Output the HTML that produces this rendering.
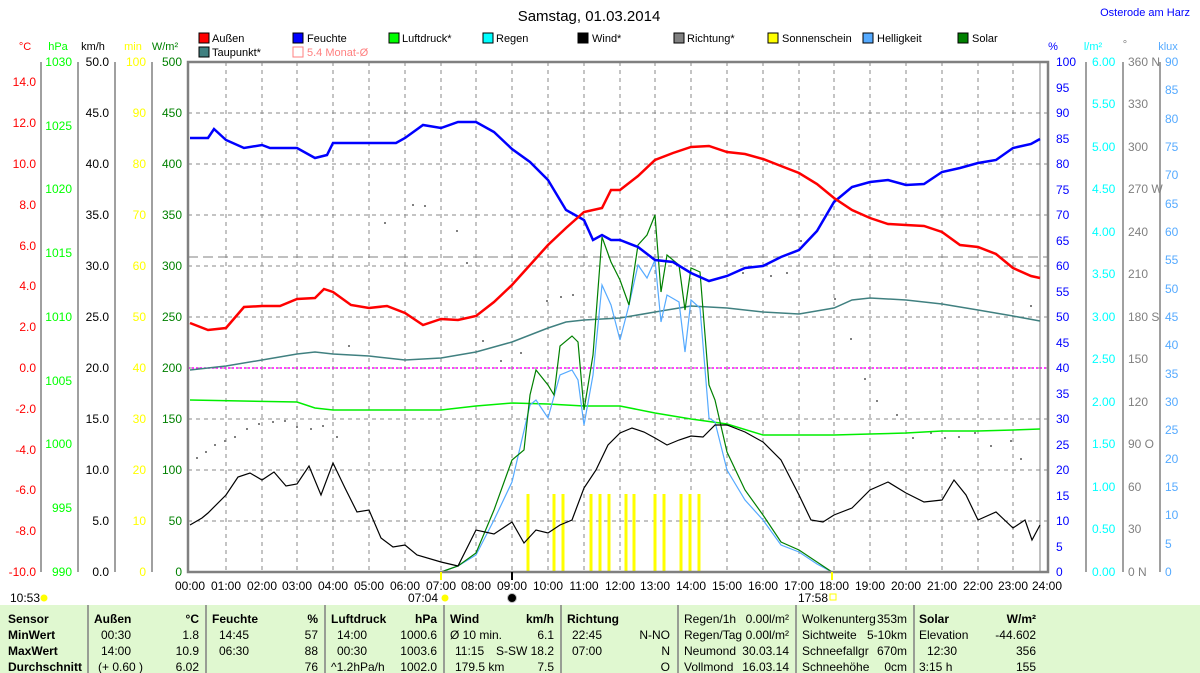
<!DOCTYPE html>
<html><head><meta charset="utf-8"><style>
body{margin:0;background:#fff;}
svg{display:block;font-family:"Liberation Sans",sans-serif;}
</style></head><body>
<svg width="1200" height="673" viewBox="0 0 1200 673" xmlns="http://www.w3.org/2000/svg">
<rect width="1200" height="673" fill="#fff"/>
<text x="589" y="21" font-size="15" text-anchor="middle" fill="#000">Samstag, 01.03.2014</text>
<text x="1190" y="16" font-size="11" text-anchor="end" fill="#0000ff">Osterode am Harz</text>
<!-- legend -->
<g font-size="11" fill="#000">
<rect x="199" y="33" width="10" height="10" fill="#ff0000" stroke="#000"/><text x="212" y="42">Außen</text>
<rect x="293" y="33" width="10" height="10" fill="#0000ff" stroke="#000"/><text x="307" y="42">Feuchte</text>
<rect x="389" y="33" width="10" height="10" fill="#00ff00" stroke="#000"/><text x="402" y="42">Luftdruck*</text>
<rect x="483" y="33" width="10" height="10" fill="#00ffff" stroke="#000"/><text x="496" y="42">Regen</text>
<rect x="578" y="33" width="10" height="10" fill="#000" stroke="#000"/><text x="592" y="42">Wind*</text>
<rect x="674" y="33" width="10" height="10" fill="#808080" stroke="#000"/><text x="687" y="42">Richtung*</text>
<rect x="768" y="33" width="10" height="10" fill="#ffff00" stroke="#000"/><text x="782" y="42">Sonnenschein</text>
<rect x="863" y="33" width="10" height="10" fill="#55aaff" stroke="#000"/><text x="877" y="42">Helligkeit</text>
<rect x="958" y="33" width="10" height="10" fill="#008000" stroke="#000"/><text x="972" y="42">Solar</text>
<rect x="199" y="47" width="10" height="10" fill="#408080" stroke="#000"/><text x="212" y="56">Taupunkt*</text>
<rect x="293" y="47" width="10" height="10" fill="none" stroke="#ff8080"/><text x="307" y="56" fill="#ff8080">5.4 Monat-Ø</text>
</g>
<!-- axis titles -->
<g font-size="11">
<text x="25" y="50" text-anchor="middle" fill="#ff0000">°C</text>
<text x="58" y="50" text-anchor="middle" fill="#00ff00">hPa</text>
<text x="93" y="50" text-anchor="middle" fill="#000">km/h</text>
<text x="133" y="50" text-anchor="middle" fill="#ffff00">min</text>
<text x="165" y="50" text-anchor="middle" fill="#008000">W/m²</text>
<text x="1053" y="50" text-anchor="middle" fill="#0000ff">%</text>
<text x="1093" y="50" text-anchor="middle" fill="#00ffff">l/m²</text>
<text x="1125" y="48" text-anchor="middle" fill="#808080">°</text>
<text x="1168" y="50" text-anchor="middle" fill="#55aaff">klux</text>
</g>
<!-- axis lines -->
<g stroke="#808080" stroke-width="1.5">
<line x1="41" y1="62" x2="41" y2="572"/>
<line x1="78" y1="62" x2="78" y2="572"/>
<line x1="115" y1="62" x2="115" y2="572"/>
<line x1="152" y1="62" x2="152" y2="572"/>
<line x1="1086" y1="62" x2="1086" y2="572"/>
<line x1="1123" y1="62" x2="1123" y2="572"/>
<line x1="1160" y1="62" x2="1160" y2="572"/>
</g>
<!-- grid -->
<g stroke="#8a8a8a" stroke-dasharray="4,4" stroke-width="1">
<line x1="188" y1="113" x2="1048" y2="113"/><line x1="188" y1="164" x2="1048" y2="164"/>
<line x1="188" y1="215" x2="1048" y2="215"/><line x1="188" y1="266" x2="1048" y2="266"/>
<line x1="188" y1="317" x2="1048" y2="317"/><line x1="188" y1="368" x2="1048" y2="368"/>
<line x1="188" y1="419" x2="1048" y2="419"/><line x1="188" y1="470" x2="1048" y2="470"/>
<line x1="188" y1="521" x2="1048" y2="521"/>
<line x1="226" y1="62" x2="226" y2="572"/><line x1="262" y1="62" x2="262" y2="572"/>
<line x1="297" y1="62" x2="297" y2="572"/><line x1="333" y1="62" x2="333" y2="572"/>
<line x1="369" y1="62" x2="369" y2="572"/><line x1="405" y1="62" x2="405" y2="572"/>
<line x1="441" y1="62" x2="441" y2="572"/><line x1="476" y1="62" x2="476" y2="572"/>
<line x1="512" y1="62" x2="512" y2="572"/><line x1="548" y1="62" x2="548" y2="572"/>
<line x1="584" y1="62" x2="584" y2="572"/><line x1="620" y1="62" x2="620" y2="572"/>
<line x1="655" y1="62" x2="655" y2="572"/><line x1="691" y1="62" x2="691" y2="572"/>
<line x1="727" y1="62" x2="727" y2="572"/><line x1="763" y1="62" x2="763" y2="572"/>
<line x1="799" y1="62" x2="799" y2="572"/><line x1="834" y1="62" x2="834" y2="572"/>
<line x1="870" y1="62" x2="870" y2="572"/><line x1="906" y1="62" x2="906" y2="572"/>
<line x1="942" y1="62" x2="942" y2="572"/><line x1="978" y1="62" x2="978" y2="572"/>
<line x1="1013" y1="62" x2="1013" y2="572"/>
</g>
<line x1="188" y1="257" x2="1048" y2="257" stroke="#808080" stroke-dasharray="10,5"/>
<line x1="188" y1="368" x2="1048" y2="368" stroke="#ff00ff" stroke-dasharray="2,2" stroke-width="1.5"/>
<line x1="1040" y1="62" x2="1040" y2="572" stroke="#808080"/>
<!-- sunshine bars -->
<g stroke="#ffff00" stroke-width="3">
<line x1="528" y1="494" x2="528" y2="572"/><line x1="554" y1="494" x2="554" y2="572"/>
<line x1="563" y1="494" x2="563" y2="572"/><line x1="591" y1="494" x2="591" y2="572"/>
<line x1="600" y1="494" x2="600" y2="572"/><line x1="609" y1="494" x2="609" y2="572"/>
<line x1="626" y1="494" x2="626" y2="572"/><line x1="634" y1="494" x2="634" y2="572"/>
<line x1="655" y1="494" x2="655" y2="572"/><line x1="664" y1="494" x2="664" y2="572"/>
<line x1="681" y1="494" x2="681" y2="572"/><line x1="690" y1="494" x2="690" y2="572"/>
<line x1="699" y1="494" x2="699" y2="572"/>
</g>
<!-- direction dots -->
<g fill="#808080">
<rect x="196" y="457" width="2" height="2"/><rect x="205" y="451" width="2" height="2"/><rect x="214" y="444" width="2" height="2"/>
<rect x="224" y="440" width="2" height="2"/><rect x="234" y="436" width="2" height="2"/><rect x="246" y="428" width="2" height="2"/>
<rect x="258" y="423" width="2" height="2"/><rect x="272" y="421" width="2" height="2"/><rect x="284" y="420" width="2" height="2"/>
<rect x="296" y="426" width="2" height="2"/><rect x="310" y="428" width="2" height="2"/><rect x="322" y="425" width="2" height="2"/>
<rect x="336" y="436" width="2" height="2"/><rect x="348" y="345" width="2" height="2"/><rect x="384" y="222" width="2" height="2"/>
<rect x="412" y="204" width="2" height="2"/><rect x="424" y="205" width="2" height="2"/><rect x="456" y="230" width="2" height="2"/>
<rect x="466" y="262" width="2" height="2"/><rect x="482" y="340" width="2" height="2"/><rect x="500" y="360" width="2" height="2"/>
<rect x="520" y="352" width="2" height="2"/><rect x="546" y="300" width="2" height="2"/><rect x="560" y="296" width="2" height="2"/>
<rect x="572" y="294" width="2" height="2"/><rect x="742" y="272" width="2" height="2"/><rect x="770" y="275" width="2" height="2"/>
<rect x="786" y="272" width="2" height="2"/><rect x="800" y="240" width="2" height="2"/><rect x="834" y="298" width="2" height="2"/>
<rect x="850" y="338" width="2" height="2"/><rect x="864" y="378" width="2" height="2"/><rect x="876" y="400" width="2" height="2"/>
<rect x="896" y="414" width="2" height="2"/><rect x="912" y="437" width="2" height="2"/><rect x="930" y="432" width="2" height="2"/>
<rect x="944" y="437" width="2" height="2"/><rect x="958" y="436" width="2" height="2"/><rect x="974" y="432" width="2" height="2"/>
<rect x="990" y="445" width="2" height="2"/><rect x="1010" y="440" width="2" height="2"/><rect x="1020" y="458" width="2" height="2"/>
<rect x="1030" y="305" width="2" height="2"/>
</g>
<!-- series -->
<polyline fill="none" stroke="#00ee00" stroke-width="1.5" points="190,400 297,402 315,408 333,410 441,410 476,406 512,403 548,404 584,406 620,406 655,413 691,419 727,424 763,435 799,435 834,435 870,434 906,433 942,431 978,431 1013,430 1040,429"/>
<polyline fill="none" stroke="#408080" stroke-width="1.5" points="190,370 226,366 262,360 297,354 315,352 333,354 369,356 405,360 441,358 476,352 512,342 548,328 566,322 584,320 620,318 655,312 691,306 727,308 763,312 799,314 834,308 852,300 870,298 906,300 942,304 978,310 1013,316 1040,321"/>
<polyline fill="none" stroke="#55aaff" stroke-width="1.2" points="441,572 458,566 476,555 494,520 512,482 530,405 536,400 548,418 560,375 572,370 578,380 584,425 593,375 602,285 611,305 620,340 629,305 638,265 647,278 655,260 661,322 667,295 679,302 685,352 691,300 700,308 709,418 715,422 727,470 745,500 763,520 781,545 799,552 817,564 832,572"/>
<polyline fill="none" stroke="#008000" stroke-width="1.2" points="190,572 441,572 458,566 476,553 494,510 512,460 524,450 530,395 536,370 548,385 554,395 560,346 572,336 578,342 584,410 593,355 602,237 611,262 620,280 629,305 638,245 647,235 655,215 661,292 667,255 679,265 685,310 691,268 700,272 709,385 715,400 727,452 745,490 763,515 781,542 799,550 817,562 832,572"/>
<polyline fill="none" stroke="#000" stroke-width="1.2" points="190,525 202,518 208,513 226,495 238,477 250,473 262,480 274,472 286,486 297,484 309,466 321,495 333,463 345,488 357,512 369,510 381,538 393,547 405,545 417,555 441,562 458,566 476,530 494,534 512,522 524,543 536,530 548,533 560,525 572,520 584,488 596,470 608,445 620,433 632,428 644,432 655,438 667,445 679,440 691,436 703,437 715,425 727,425 745,432 763,442 781,460 799,495 811,520 823,522 834,515 852,508 870,490 888,482 906,493 924,502 942,500 954,480 966,495 978,520 996,512 1013,528 1025,520 1032,540 1040,525"/>
<polyline fill="none" stroke="#0000ff" stroke-width="2.5" points="190,138 208,138 214,129 226,140 244,148 262,145 270,148 297,148 315,158 327,155 333,143 369,143 396,143 405,138 423,125 441,128 458,122 476,122 494,132 512,149 530,162 548,180 566,210 575,215 584,220 593,240 602,235 611,240 620,240 638,247 655,260 673,262 691,273 709,281 727,276 745,268 763,266 781,257 799,250 817,231 834,202 852,187 870,182 888,180 906,185 924,184 942,172 960,168 978,163 996,160 1013,148 1031,144 1040,139"/>
<polyline fill="none" stroke="#ff0000" stroke-width="2.5" points="190,323 208,330 226,328 244,307 262,306 280,306 297,299 315,298 324,289 333,292 351,305 369,308 387,306 405,313 423,325 441,319 458,320 476,316 494,302 512,285 530,265 548,245 566,228 584,212 602,208 611,190 620,190 638,176 655,160 673,153 691,147 709,146 727,152 745,154 763,159 781,166 799,173 817,184 834,198 852,210 870,218 888,224 906,225 924,226 942,232 960,245 978,247 996,254 1013,268 1031,276 1040,278"/>
<!-- frame -->
<rect x="188" y="62" width="860" height="510" fill="none" stroke="#808080" stroke-width="2.5"/>
<!-- left tick labels -->
<g font-size="12" fill="#ff0000" text-anchor="end">
<text x="36" y="86">14.0</text><text x="36" y="127">12.0</text><text x="36" y="168">10.0</text><text x="36" y="209">8.0</text><text x="36" y="250">6.0</text><text x="36" y="290">4.0</text><text x="36" y="331">2.0</text><text x="36" y="372">0.0</text><text x="36" y="413">-2.0</text><text x="36" y="454">-4.0</text><text x="36" y="494">-6.0</text><text x="36" y="535">-8.0</text><text x="36" y="576">-10.0</text>
</g>
<g font-size="12" fill="#00ff00" text-anchor="end">
<text x="72" y="66">1030</text><text x="72" y="130">1025</text><text x="72" y="193">1020</text><text x="72" y="257">1015</text><text x="72" y="321">1010</text><text x="72" y="385">1005</text><text x="72" y="448">1000</text><text x="72" y="512">995</text><text x="72" y="576">990</text>
</g>
<g font-size="12" fill="#000" text-anchor="end">
<text x="109" y="66">50.0</text><text x="109" y="117">45.0</text><text x="109" y="168">40.0</text><text x="109" y="219">35.0</text><text x="109" y="270">30.0</text><text x="109" y="321">25.0</text><text x="109" y="372">20.0</text><text x="109" y="423">15.0</text><text x="109" y="474">10.0</text><text x="109" y="525">5.0</text><text x="109" y="576">0.0</text>
</g>
<g font-size="12" fill="#ffff00" text-anchor="end">
<text x="146" y="66">100</text><text x="146" y="117">90</text><text x="146" y="168">80</text><text x="146" y="219">70</text><text x="146" y="270">60</text><text x="146" y="321">50</text><text x="146" y="372">40</text><text x="146" y="423">30</text><text x="146" y="474">20</text><text x="146" y="525">10</text><text x="146" y="576">0</text>
</g>
<g font-size="12" fill="#008000" text-anchor="end">
<text x="182" y="66">500</text><text x="182" y="117">450</text><text x="182" y="168">400</text><text x="182" y="219">350</text><text x="182" y="270">300</text><text x="182" y="321">250</text><text x="182" y="372">200</text><text x="182" y="423">150</text><text x="182" y="474">100</text><text x="182" y="525">50</text><text x="182" y="576">0</text>
</g>
<!-- right tick labels -->
<g font-size="12" fill="#0000ff">
<text x="1056" y="66">100</text><text x="1056" y="92">95</text><text x="1056" y="117">90</text><text x="1056" y="143">85</text><text x="1056" y="168">80</text><text x="1056" y="194">75</text><text x="1056" y="219">70</text><text x="1056" y="245">65</text><text x="1056" y="270">60</text><text x="1056" y="296">55</text><text x="1056" y="321">50</text><text x="1056" y="347">45</text><text x="1056" y="372">40</text><text x="1056" y="398">35</text><text x="1056" y="423">30</text><text x="1056" y="449">25</text><text x="1056" y="474">20</text><text x="1056" y="500">15</text><text x="1056" y="525">10</text><text x="1056" y="551">5</text><text x="1056" y="576">0</text>
</g>
<g font-size="12" fill="#00ffff">
<text x="1092" y="66">6.00</text><text x="1092" y="108">5.50</text><text x="1092" y="151">5.00</text><text x="1092" y="193">4.50</text><text x="1092" y="236">4.00</text><text x="1092" y="278">3.50</text><text x="1092" y="321">3.00</text><text x="1092" y="363">2.50</text><text x="1092" y="406">2.00</text><text x="1092" y="448">1.50</text><text x="1092" y="491">1.00</text><text x="1092" y="533">0.50</text><text x="1092" y="576">0.00</text>
</g>
<g font-size="12" fill="#808080">
<text x="1128" y="66">360 N</text><text x="1128" y="108">330</text><text x="1128" y="151">300</text><text x="1128" y="193">270 W</text><text x="1128" y="236">240</text><text x="1128" y="278">210</text><text x="1128" y="321">180 S</text><text x="1128" y="363">150</text><text x="1128" y="406">120</text><text x="1128" y="448">90 O</text><text x="1128" y="491">60</text><text x="1128" y="533">30</text><text x="1128" y="576">0   N</text>
</g>
<g font-size="12" fill="#55aaff">
<text x="1165" y="66">90</text><text x="1165" y="94">85</text><text x="1165" y="123">80</text><text x="1165" y="151">75</text><text x="1165" y="179">70</text><text x="1165" y="208">65</text><text x="1165" y="236">60</text><text x="1165" y="264">55</text><text x="1165" y="293">50</text><text x="1165" y="321">45</text><text x="1165" y="349">40</text><text x="1165" y="378">35</text><text x="1165" y="406">30</text><text x="1165" y="434">25</text><text x="1165" y="463">20</text><text x="1165" y="491">15</text><text x="1165" y="519">10</text><text x="1165" y="548">5</text><text x="1165" y="576">0</text>
</g>
<!-- time labels -->
<g font-size="12" fill="#000" text-anchor="middle">
<text x="190" y="590">00:00</text><text x="226" y="590">01:00</text><text x="262" y="590">02:00</text><text x="297" y="590">03:00</text><text x="333" y="590">04:00</text><text x="369" y="590">05:00</text><text x="405" y="590">06:00</text><text x="441" y="590">07:00</text><text x="476" y="590">08:00</text><text x="512" y="590">09:00</text><text x="548" y="590">10:00</text><text x="584" y="590">11:00</text><text x="620" y="590">12:00</text><text x="655" y="590">13:00</text><text x="691" y="590">14:00</text><text x="727" y="590">15:00</text><text x="763" y="590">16:00</text><text x="799" y="590">17:00</text><text x="834" y="590">18:00</text><text x="870" y="590">19:00</text><text x="906" y="590">20:00</text><text x="942" y="590">21:00</text><text x="978" y="590">22:00</text><text x="1013" y="590">23:00</text><text x="1047" y="590">24:00</text>
</g>
<g font-size="12" fill="#000">
<text x="10" y="602">10:53</text><circle cx="44" cy="598" r="3.5" fill="#ffff00"/>
<text x="408" y="602">07:04</text><circle cx="445" cy="598" r="3.5" fill="#ffff00"/>
<circle cx="512" cy="598" r="4.5" fill="#000" stroke="#bbb"/>
<text x="798" y="602">17:58</text><rect x="830" y="594" width="6" height="6" fill="none" stroke="#ffff00"/>
</g>
<line x1="441" y1="572" x2="441" y2="580" stroke="#ffff00" stroke-width="2"/>
<line x1="512" y1="572" x2="512" y2="580" stroke="#000" stroke-width="2"/>
<line x1="832" y1="572" x2="832" y2="580" stroke="#ffff00" stroke-width="2"/>
<!-- table -->
<rect x="0" y="605" width="1200" height="68" fill="#e0f8d0"/>
<g stroke="#808080" stroke-width="1.5">
<line x1="88" y1="605" x2="88" y2="673"/><line x1="206" y1="605" x2="206" y2="673"/><line x1="325" y1="605" x2="325" y2="673"/><line x1="444" y1="605" x2="444" y2="673"/><line x1="561" y1="605" x2="561" y2="673"/><line x1="678" y1="605" x2="678" y2="673"/><line x1="796" y1="605" x2="796" y2="673"/><line x1="914" y1="605" x2="914" y2="673"/>
</g>
<g font-size="12" fill="#000">
<g font-weight="bold"><text x="8" y="623">Sensor</text><text x="8" y="639">MinWert</text><text x="8" y="655">MaxWert</text><text x="8" y="671">Durchschnitt</text>
<text x="94" y="623">Außen</text><text x="199" y="623" text-anchor="end">°C</text>
<text x="212" y="623">Feuchte</text><text x="318" y="623" text-anchor="end">%</text>
<text x="331" y="623">Luftdruck</text><text x="437" y="623" text-anchor="end">hPa</text>
<text x="450" y="623">Wind</text><text x="554" y="623" text-anchor="end">km/h</text>
<text x="567" y="623">Richtung</text>
<text x="919" y="623">Solar</text><text x="1036" y="623" text-anchor="end">W/m²</text></g>
<text x="101" y="639">00:30</text><text x="199" y="639" text-anchor="end">1.8</text>
<text x="101" y="655">14:00</text><text x="199" y="655" text-anchor="end">10.9</text>
<text x="98" y="671">(+ 0.60 )</text><text x="199" y="671" text-anchor="end">6.02</text>
<text x="219" y="639">14:45</text><text x="318" y="639" text-anchor="end">57</text>
<text x="219" y="655">06:30</text><text x="318" y="655" text-anchor="end">88</text>
<text x="318" y="671" text-anchor="end">76</text>
<text x="337" y="639">14:00</text><text x="437" y="639" text-anchor="end">1000.6</text>
<text x="337" y="655">00:30</text><text x="437" y="655" text-anchor="end">1003.6</text>
<text x="331" y="671">^1.2hPa/h</text><text x="437" y="671" text-anchor="end">1002.0</text>
<text x="450" y="639">Ø 10 min.</text><text x="554" y="639" text-anchor="end">6.1</text>
<text x="455" y="655">11:15</text><text x="554" y="655" text-anchor="end">S-SW 18.2</text>
<text x="455" y="671">179.5 km</text><text x="554" y="671" text-anchor="end">7.5</text>
<text x="572" y="639">22:45</text><text x="670" y="639" text-anchor="end">N-NO</text>
<text x="572" y="655">07:00</text><text x="670" y="655" text-anchor="end">N</text>
<text x="670" y="671" text-anchor="end">O</text>
<text x="684" y="623">Regen/1h</text><text x="789" y="623" text-anchor="end">0.00l/m²</text>
<text x="684" y="639">Regen/Tag</text><text x="789" y="639" text-anchor="end">0.00l/m²</text>
<text x="684" y="655">Neumond</text><text x="789" y="655" text-anchor="end">30.03.14</text>
<text x="684" y="671">Vollmond</text><text x="789" y="671" text-anchor="end">16.03.14</text>
<text x="802" y="623">Wolkenunterg</text><text x="907" y="623" text-anchor="end">353m</text>
<text x="802" y="639">Sichtweite</text><text x="907" y="639" text-anchor="end">5-10km</text>
<text x="802" y="655">Schneefallgr</text><text x="907" y="655" text-anchor="end">670m</text>
<text x="802" y="671">Schneehöhe</text><text x="907" y="671" text-anchor="end">0cm</text>
<text x="919" y="639">Elevation</text><text x="1036" y="639" text-anchor="end">-44.602</text>
<text x="927" y="655">12:30</text><text x="1036" y="655" text-anchor="end">356</text>
<text x="919" y="671">3:15 h</text><text x="1036" y="671" text-anchor="end">155</text>
</g>
</svg>
</body></html>
